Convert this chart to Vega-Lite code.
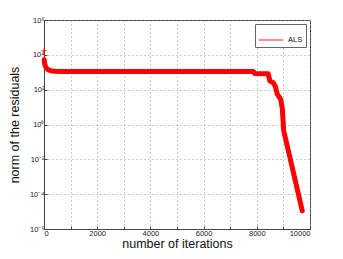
{
  "$schema": "https://vega.github.io/schema/vega-lite/v6.json",
  "autosize": {"type": "none"},
  "width": 266,
  "height": 209,
  "padding": {"left": 44, "top": 20, "right": 33, "bottom": 30},
  "background": "white",
  "config": {
    "font": "Liberation Sans",
    "view": {"stroke": "#444", "strokeWidth": 1},
    "axis": {
      "labelFont": "Liberation Sans",
      "titleFont": "Liberation Sans",
      "labelFontSize": 7.5,
      "titleFontSize": 12.5,
      "titleFontWeight": "normal",
      "labelColor": "#222",
      "titleColor": "#111",
      "domainColor": "#444",
      "tickColor": "#444",
      "tickSize": -3,
      "gridColor": "#999",
      "gridDash": [1, 3],
      "gridWidth": 1
    }
  },
  "data": {
    "values": [
      {"iteration": 0, "residual": 17000},
      {"iteration": 8, "residual": 5200},
      {"iteration": 20, "residual": 3400},
      {"iteration": 40, "residual": 2500},
      {"iteration": 80, "residual": 1800},
      {"iteration": 150, "residual": 1400},
      {"iteration": 250, "residual": 1230},
      {"iteration": 400, "residual": 1150},
      {"iteration": 700, "residual": 1110},
      {"iteration": 7870, "residual": 1100},
      {"iteration": 7920, "residual": 850},
      {"iteration": 8430, "residual": 820},
      {"iteration": 8490, "residual": 320},
      {"iteration": 8620, "residual": 250},
      {"iteration": 8700, "residual": 150},
      {"iteration": 8770, "residual": 55},
      {"iteration": 8900, "residual": 28},
      {"iteration": 8960, "residual": 8},
      {"iteration": 9010, "residual": 0.45},
      {"iteration": 9710, "residual": 0.000011}
    ]
  },
  "encoding": {
    "x": {
      "field": "iteration",
      "type": "quantitative",
      "scale": {"domain": [0, 10000], "nice": false},
      "axis": {"values": [0,1000,2000,3000,4000,5000,6000,7000,8000,9000,10000], "format": "d", "title": "number of iterations", "titlePadding": 1, "labelPadding": 3}
    },
    "y": {
      "field": "residual",
      "type": "quantitative",
      "scale": {"type": "log", "domain": [0.000001, 1000000], "nice": false},
      "axis": {
        "values": [0.000001, 0.0001, 0.01, 1, 100, 10000, 1000000],
        "labelExpr": "datum.value >= 999999 ? '10⁶' : datum.value >= 9999 ? '10⁴' : datum.value >= 99 ? '10²' : datum.value >= 0.99 ? '10⁰' : datum.value >= 0.0099 ? '10⁻²' : datum.value >= 0.000099 ? '10⁻⁴' : '10⁻⁶'",
        "title": "norm of the residuals",
        "titlePadding": 8,
        "labelPadding": 3
      }
    }
  },
  "layer": [
    {
      "mark": {"type": "line", "strokeWidth": 1},
      "encoding": {
        "color": {
          "datum": "ALS",
          "scale": {"range": ["#ff2020"]},
          "legend": {
            "title": null,
            "orient": "top-right",
            "offset": 4,
            "padding": 3,
            "strokeColor": "#666",
            "fillColor": "white",
            "symbolType": "stroke",
            "symbolSize": 600,
            "symbolStrokeWidth": 1,
            "labelFontSize": 7.5,
            "labelFont": "Liberation Sans",
            "labelColor": "#111"
          }
        }
      }
    },
    {
      "transform": [{"filter": "datum.iteration > 0"}],
      "mark": {"type": "line", "strokeWidth": 5, "color": "#ff0000", "strokeJoin": "round", "strokeCap": "round"},
      "encoding": {}
    },
    {
      "transform": [{"filter": "datum.iteration == 0"}],
      "mark": {"type": "point", "shape": "M-1,0L1,0M0,-1L0,1", "size": 40, "color": "#ff0000", "strokeWidth": 1, "filled": false},
      "encoding": {}
    }
  ]
}
